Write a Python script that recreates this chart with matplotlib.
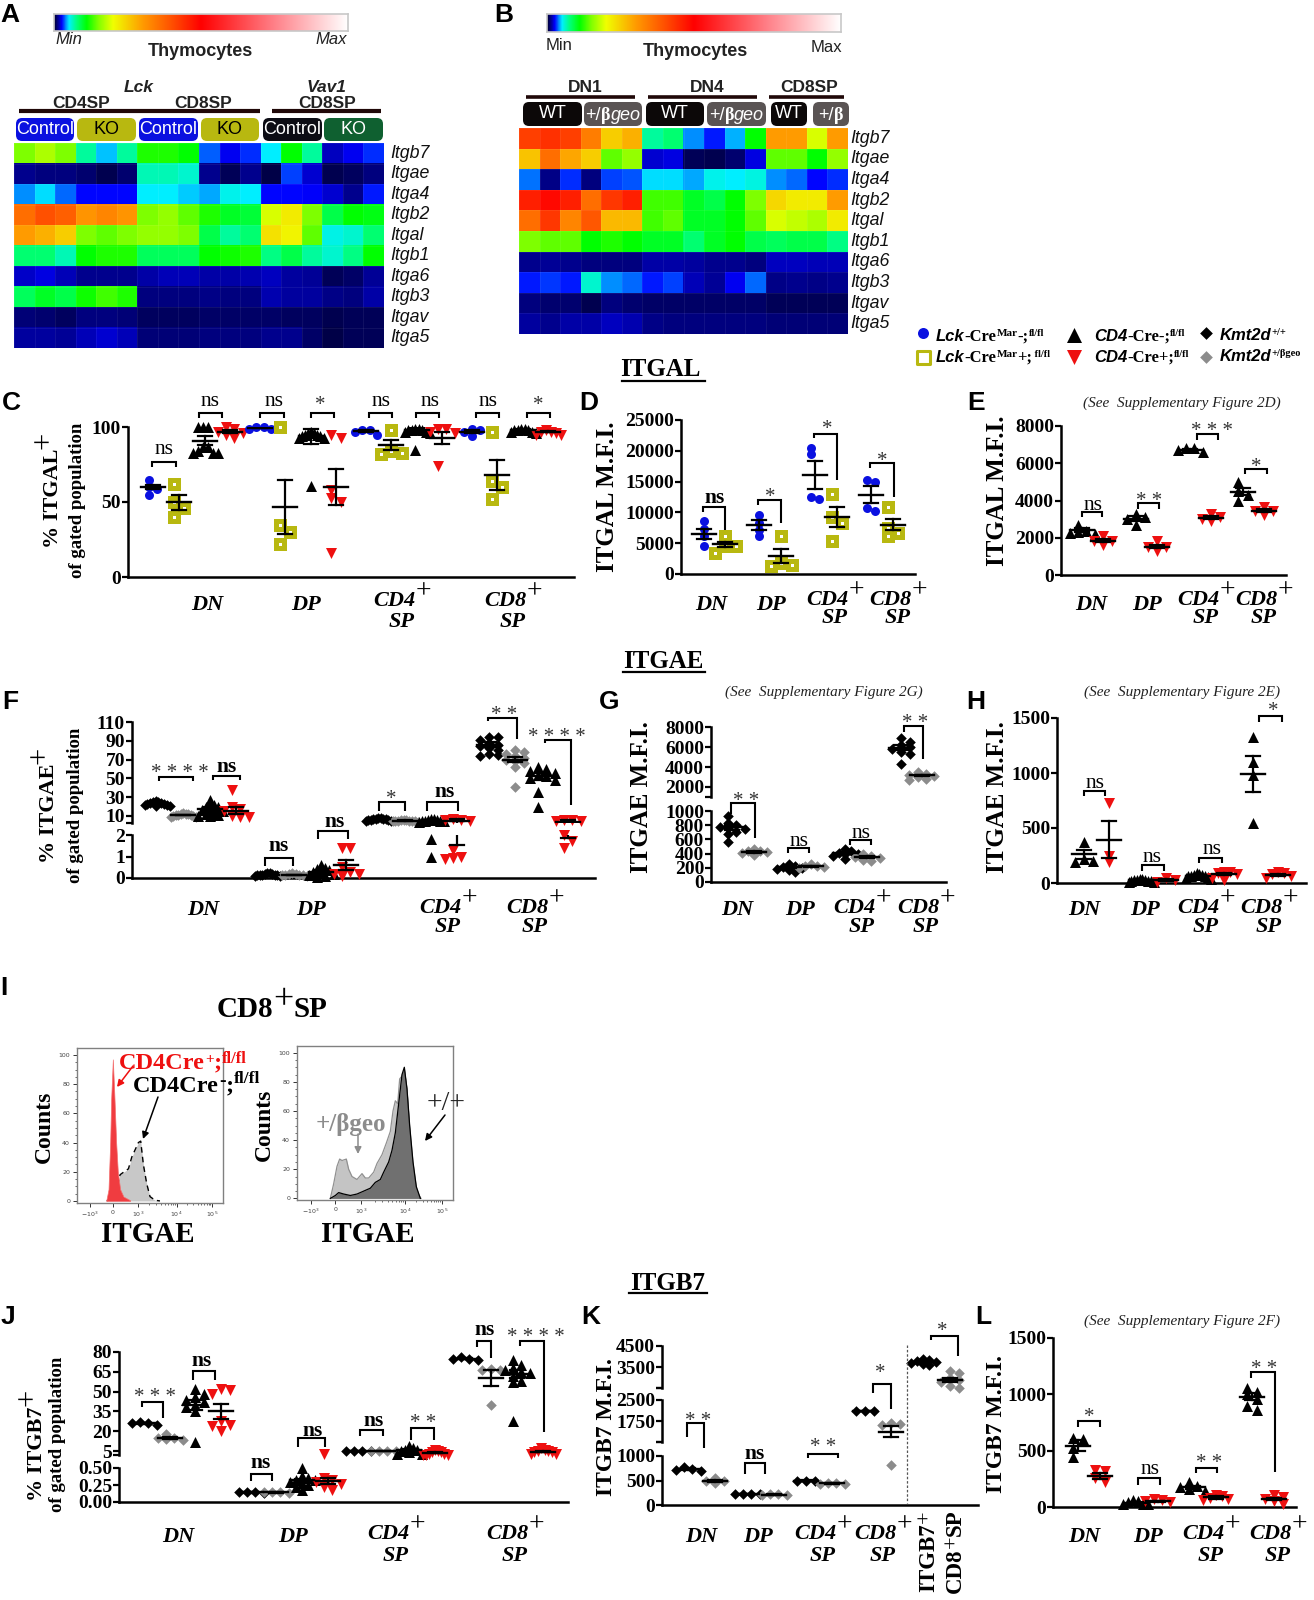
"""Thymocyte integrin figure: heatmaps, dot plots and flow histograms."""
import numpy as np
import matplotlib

matplotlib.use("Agg")
import matplotlib.pyplot as plt
from matplotlib.colors import LinearSegmentedColormap
from matplotlib.patches import FancyBboxPatch
from matplotlib.ticker import FixedLocator, MultipleLocator

W, H = 1314, 1600
SERIF = "Liberation Serif"
SANS = "Liberation Sans"

GENES = ["Itgb7", "Itgae", "Itga4", "Itgb2", "Itgal", "Itgb1", "Itga6", "Itgb3", "Itgav", "Itga5"]

# heat values are positions along the colour bar, in percent
HEAT_A = [
    [15, 17, 15, 7, 4.5, 7, 12, 12, 11, 3.5, 2.4, 3, 5, 11, 7, 1.8, 2.4, 3],
    [1.2, 1, 1, .8, .4, .8, 6.5, 6.5, 6, 1.2, .5, 1.2, .3, 3.2, 2, .4, .6, 1],
    [4, 4.8, 3.6, 2.6, 2.6, 2.6, 5, 5, 4.6, 4.2, 5.4, 5, 2.6, 2.6, 2.5, 2, 1.2, 2.8],
    [36, 40, 38, 31, 33, 31, 15, 16, 14, 12, 10, 9.5, 19, 22, 15, 9, 11, 10.5],
    [30, 28, 25, 15, 14, 15, 16, 16, 15, 9, 7, 8, 23, 21, 14, 5.5, 6, 8],
    [8, 8, 6.5, 11, 12, 12, 8.5, 8.5, 8.5, 11, 11.5, 12, 7.5, 9, 7, 6, 7.5, 11],
    [1.9, 2.2, 1.7, 1.2, 1.2, 1.2, 1.5, 1.7, 1.7, 1.5, 1.5, 1.6, 1.8, 1.4, 1.3, .5, .7, 1.3],
    [8.5, 10, 9, 11.5, 13, 12, 1, 1, 1, 1.1, 1, 1, 1.6, 1.4, 1.4, 1.1, 1, 1.5],
    [.9, .8, .6, 1, 1, .9, .6, .6, .6, .7, .7, .7, .7, .6, .6, .4, .5, .5],
    [1.4, 1.4, 1.3, 1.7, 2, 1.7, .9, .9, .9, 1, 1, 1, 1.2, 1.2, .7, .3, .5, .5],
]
HEAT_B = [
    [42, 44, 42, 34, 25, 28, 7, 8, 4, 2.8, 4.3, 11, 30, 30, 19, 30],
    [26, 36, 29, 25, 14, 16, 2, 2.2, .5, .4, .8, 2.2, 14, 14, 11, 16],
    [3.7, 1.1, 3, 1, 3.2, 3.4, 4.8, 4.8, 4.2, 5.4, 5, 5.6, 4, 3.6, 2.6, 3],
    [46, 49, 46, 36, 43, 46, 13, 13, 10, 9, 11, 15, 24, 22, 22, 30],
    [36, 43, 33, 39, 27, 27, 13, 14, 10, 10, 11, 14, 19, 18, 17, 22],
    [15, 14, 14, 11, 12, 11, 10, 10, 8, 10, 11, 9, 8.5, 9, 9, 7.5],
    [1.2, 1.3, 1.2, 1, 1, 1, 1.5, 1.5, 1.4, 1.2, 1.2, 1, 1.8, 1.8, 1.7, 1.7],
    [2.8, 3.1, 2.8, 6, 4, 3.6, 2.8, 3.2, 1.7, 1.3, 2.4, 3.6, 1.1, 1.2, 1.1, 1.2],
    [1, .8, .8, .4, 1, .8, .7, .7, .7, .7, .7, .7, .5, .5, .5, .5],
    [1.4, 1.2, 1.5, 1.5, 1.8, 1.6, 1.1, 1, 1, 1, 1, 1, .9, .9, .9, .9],
]

C_VALUES = [
    [65, 60, 59, 55], [62, 50, 46, 40], [100, 100, 100, 87, 87, 84, 83, 83, 83], [100, 99, 97, 96, 95, 93],
    [100, 100, 99, 99], [100, 35, 30, 22], [97, 96, 96, 95, 95, 94, 94, 93, 93, 61], [95, 93, 58, 53, 50, 16],
    [98, 98, 97, 95], [98, 84, 83, 82], [99, 99, 98, 98, 98, 97, 97, 96, 85], [99, 99, 97, 96, 74],
    [99, 98, 97, 94], [97, 64, 60, 52], [99, 99, 98, 98, 98, 97, 97, 96], [98, 97, 97, 96, 95, 95],
]
C_MEANS = [60, 50, 91, 97, 99.5, 47, 94, 60, 97.5, 88, 98, 93, 97, 68, 98, 97]
C_SEMS = [1.5, 5, 3, 1, .3, 18, 5, 12, .7, 3.5, 1.5, 4, 1, 10, .8, .6]

D_VALUES = [
    [8530, 7290, 6100, 4590], [6100, 4480, 4480, 3400], [9600, 8260, 7180, 6100], [6200, 1800, 1500, 1240],
    [20400, 19500, 12580, 12200], [13000, 9300, 8260, 5300], [15300, 15000, 10700, 10300], [10800, 7450, 6640, 6100],
]
D_MEANS = [6500, 4850, 7900, 2900, 16100, 9200, 12900, 8000]
D_SEMS = [850, 400, 800, 1150, 2300, 1600, 1400, 900]

E_VALUES = [
    [2700, 2350, 2300, 2250, 2200], [2100, 1850, 1800, 1600], [3300, 3100, 3000, 2700], [1800, 1500, 1500, 1300],
    [6800, 6800, 6700, 6600], [3300, 3100, 3000, 2900], [5000, 4500, 4300, 4000], [3650, 3450, 3450, 3200],
]
E_MEANS = [2420, 1850, 3020, 1530, 6720, 3080, 4480, 3450]
E_SEMS = [120, 100, 130, 100, 40, 80, 180, 80]

F_VALUES = [
    [26, 25, 25, 24, 24, 23, 23, 22, 22, 21, 21], [13, 12.5, 12, 12, 11, 11, 11, 10, 10, 9, 9],
    [27, 22, 20, 20, 18, 16, 15, 13, 12, 11, 10, 10], [38, 20, 17, 15, 10, 9, 9],
    [.25, .22, .2, .18, .16, .15, .14, .13, .12, .1, .08], [.24, .2, .18, .16, .15, .14, .13, .11],
    [.6, .45, .4, .35, .3, .25, .2, .15, .1, .05], [1.4, 1.4, .5, .3, .2, .2, .1],
    [8, 7.5, 7, 7, 6.5, 6.5, 6, 6, 5.5, 5, 5], [6, 5.5, 5.5, 5, 5, 5, 4.5, 4.5, 4.5, 4],
    [7, 6.5, 6, 5.5, 5, 5, 4.5, 4.5, 4, 1.8, 1], [7, 6, 5.5, 5, 1.3, 1, .95, .9],
    [94, 94, 91, 88, 86, 84, 82, 80, 76, 75, 74], [80, 78, 76, 74, 72, 70, 68, 66, 62, 41],
    [62, 60, 58, 56, 54, 52, 50, 48, 36, 20], [6, 5.5, 5, 5, 2, 1.7, 1.4],
]
F_MEANS = [23, 11, 17.5, 15.5, .15, .15, .3, .6, 6.3, 5, 4.6, 4.3, 86, 70, 52, 3.6]
F_SEMS = [.6, .4, 1.6, 3.5, .01, .01, .05, .22, .3, .2, .6, 2.75, 2.5, 3, 3.5, 1.75]

G_VALUES = [
    [930, 830, 800, 780, 760, 740, 700, 680, 570], [470, 440, 430, 420, 410, 380],
    [250, 230, 210, 200, 190, 170, 140], [250, 230, 220, 210, 200],
    [460, 430, 410, 400, 390, 370, 320], [400, 370, 350, 340, 310, 290],
    [6900, 6500, 6200, 6000, 5800, 5500, 5300, 4300], [3500, 3300, 3200, 3100, 3000, 2800, 2700],
]
G_MEANS = [770, 425, 210, 222, 410, 350, 5950, 3150]
G_SEMS = [35, 12, 14, 8, 16, 14, 250, 80]

H_VALUES = [
    [370, 220, 200, 190], [730, 250, 190], [40, 35, 30, 28, 25, 22, 20, 15, 12, 10], [50, 25, 8],
    [90, 80, 75, 70, 68, 62, 60, 55, 50, 40], [100, 100, 95, 80, 50, 30], [1330, 1100, 980, 550], [100, 90, 80, 60, 50],
]
H_MEANS = [260, 395, 25, 30, 65, 80, 990, 70]
H_SEMS = [40, 165, 3, 10, 5, 10, 165, 8]

J_VALUES = [
    [27, 26, 26, 25], [18, 15, 15, 14, 13], [52, 48, 46, 44, 42, 40, 38, 35, 12], [52, 51, 48, 28, 25, 24, 20],
    [.15, .14, .14, .13], [.15, .15, .15, .13], [.5, .38, .35, .33, .32, .3, .28, .25, .22, .18], [.71, .35, .33, .3, .26, .22, .17],
    [5, 5, 5, 5], [5, 5, 5, 5], [9, 7, 6, 6, 5, 4, 3, 2.5], [6, 5, 4, 4, 3, 3, 2.2, 2.2, 2],
    [76, 75, 75, 74], [67, 66, 66, 40], [74, 70, 68, 66, 65, 64, 62, 58, 57, 28], [7, 6, 5, 5, 4, 4, 3, 3],
]
J_MEANS = [26, 15, 40, 35, .14, .14, .32, .31, 5, 5, 5.5, 3.8, 75, 60, 63, 4.5]
J_SEMS = [.5, 1, 4, 6, .005, .005, .02, .04, .05, .05, .7, .4, .5, 6, 3, .5]

K_VALUES = [
    [780, 740, 720, 700], [560, 500, 480, 440], [230, 230, 230, 230], [215, 215, 210, 200],
    [500, 500, 500], [450, 440, 430, 430], [2100, 2100, 2100], [1680, 1650, 1600, 820],
    [3900, 3850, 3800, 3750, 3700, 3650, 3600], [3300, 3200, 3000, 2900, 2800, 2600, 2510],
]
K_MEANS = [735, 490, 230, 210, 500, 440, 2100, 1370, 3750, 2900]
K_SEMS = [20, 25, 2, 5, 2, 5, 3, 200, 40, 100]

L_VALUES = [
    [610, 600, 520, 440], [330, 320, 260, 220], [60, 50, 40, 30, 25, 25], [70, 60, 50, 40],
    [220, 190, 180, 160, 140], [110, 100, 80, 70, 60], [1060, 1020, 1000, 960, 900, 860], [110, 90, 70, 50, 30],
]
L_MEANS = [545, 275, 38, 50, 175, 85, 980, 70]
L_SEMS = [50, 30, 5, 6, 15, 10, 30, 12]

# flow histograms, channel positions against counts
RED_CHANNEL = [318, 325, 330, 333, 338, 343, 348, 353, 360, 370, 390]
RED_COUNT = [0, 8, 40, 70, 97, 70, 40, 20, 8, 3, .5]
GREY_CHANNEL = [320, 345, 360, 372, 385, 395, 405, 415, 422, 430, 440, 450, 465, 480]
GREY_COUNT = [0, 5, 18, 20, 22, 30, 35, 40, 41, 25, 12, 3, .5, 0]
GEO_CHANNEL = [990, 1000, 1010, 1018, 1025, 1038, 1045, 1055, 1070, 1085, 1095, 1105, 1120, 1130, 1145,
               1158, 1170, 1178, 1185, 1192, 1198, 1205, 1212, 1220, 1230, 1240, 1250, 1262]
GEO_COUNT = [0, 10, 22, 27, 26, 27, 20, 15, 13, 17, 14, 14, 18, 24, 30, 38, 46, 60, 67, 65, 82, 84, 88, 75, 40, 15, 4, 0]
WT_CHANNEL = [990, 1005, 1015, 1030, 1050, 1070, 1090, 1110, 1125, 1140, 1150, 1165, 1175, 1185, 1195,
              1205, 1212, 1220, 1228, 1238, 1248, 1260]
WT_COUNT = [0, 2, 4, 3, 2, 3, 5, 7, 11, 13, 18, 25, 33, 45, 65, 85, 90, 75, 50, 25, 8, 0]

BLUE, OLIVE, RED, GREY = "#0a10e0", "#b8b810", "#ee1010", "#8c8c8c"
STYLES = {
    "circle": ("o", 9, BLUE),
    "square": ("s", 13, OLIVE),
    "up": ("^", 11, "black"),
    "down": ("v", 11, RED),
    "diamond": ("D", 7.5, "black"),
    "gdiamond": ("D", 7.5, GREY),
}
LCK_CD4 = ["circle", "square", "up", "down"] * 4
KMT_CD4 = ["diamond", "gdiamond", "up", "down"] * 4

fig = plt.figure(figsize=(W / 100, H / 100), dpi=100, facecolor="white")
renderer = fig.canvas.get_renderer()
page = fig.add_axes([0, 0, 1, 1], zorder=20)
page.set_xlim(0, W)
page.set_ylim(H, 0)
page.axis("off")


def px_axes(left, top, right, bottom, zorder=1):
    ax = fig.add_axes([left / W, 1 - bottom / H, (right - left) / W, (bottom - top) / H], zorder=zorder)
    ax.patch.set_alpha(0)
    return ax


def txt(x, y, s, size=12, family=SANS, weight="normal", style="normal", color="black", ha="center", rot=0):
    page.text(x, y, s, fontsize=size, family=family, weight=weight, style=style, color=color,
              ha=ha, va="center", rotation=rot, rotation_mode="anchor", clip_on=False)


def rich(x, y, pieces, anchor="center", rot=0):
    """pieces: (string, size, family, weight, style, color, dy) set side by side."""
    drawn, widths = [], []
    for s, size, family, weight, style, color, dy in pieces:
        t = page.text(0, 0, s, fontsize=size, family=family, weight=weight, style=style, color=color,
                      ha="left", va="baseline", rotation_mode="anchor")
        drawn.append(t)
        widths.append(t.get_window_extent(renderer).width)
    total = sum(widths)
    base = 0.35 * pieces[0][1] * 100 / 72
    pos = -total / 2 if anchor == "center" else 0
    for t, width, piece in zip(drawn, widths, pieces):
        dy = piece[6]
        if rot == 90:
            t.set_rotation(90)
            t.set_position((x + base + dy, y - pos))
        else:
            t.set_position((x + pos, y + base + dy))
        pos += width


def bold(s, size=16, dy=0, color="black"):
    return (s, size, SERIF, "bold", "normal", color, dy)


def plus(size=20, dy=-7):
    return ("+", size, SERIF, "normal", "normal", "black", dy)


def panel_letters():
    for letter, x, y in [("A", 10, 15), ("B", 504, 15), ("C", 11, 403), ("D", 589, 403), ("E", 976, 403),
                         ("F", 10, 702), ("G", 609, 702), ("H", 976, 702), ("I", 4, 988),
                         ("J", 8, 1317), ("K", 591, 1317), ("L", 983, 1317)]:
        txt(x, y, letter, size=19, weight="bold")


def section(title, x, y, x0, x1, line_y):
    txt(x, y, title, size=18, family=SERIF, weight="bold")
    page.plot([x0, x1], [line_y, line_y], color="black", lw=1.6)


def see(x0, y, s):
    txt(x0, y, s, size=11, family=SERIF, style="italic", ha="left", color="#222222")


def stage_labels(xs, y_single, y_top, y_sp, size=16):
    names = ["DN", "DP", "CD4", "CD8"]
    for name, x in zip(names, xs):
        face = (SERIF, "bold", "italic")
        if name in ("DN", "DP"):
            txt(x, y_single, name, size=size, family=SERIF, weight="bold", style="italic")
        else:
            rich(x, y_top, [(name, size, *face, "black", 0), plus()])
            txt(x, y_sp, "SP", size=size, family=SERIF, weight="bold", style="italic")


def brackets(items, ns_weight="bold"):
    for x0, x1, top, left, right, label, lx, ly in items:
        page.plot([x0, x0, x1, x1], [left, top, top, right], color="black", lw=1.5,
                  solid_joinstyle="miter", solid_capstyle="butt")
        if label == "ns":
            txt(lx, ly, "ns", size=15.5, family=SERIF, weight=ns_weight)
        else:
            txt(lx, ly + 4, " ".join(label), size=15, family=SERIF, color="#333333")


def dodge(ys, width, height, limit=12.5):
    placed = []
    for y in ys:
        k = 0
        while True:
            step = (k + 1) // 2 * (1 if k % 2 else -1)
            dx = step * width
            if all(abs(y - py) >= height or abs(dx - px) >= width * 0.99 for px, py in placed):
                break
            k += 1
        placed.append((dx, y))
    offsets = np.array([p[0] for p in placed], dtype=float)
    offsets -= (offsets.max() + offsets.min()) / 2
    spread = np.abs(offsets).max()
    if spread > limit:
        offsets *= limit / spread
    return offsets


def scatter_panel(axis_x, end_x, segments, xs, values, means, sems, kinds, mean_half=12, cap_half=7):
    axes = []
    for i, (top, bottom, low, high, ticks, labels) in enumerate(segments):
        ax = px_axes(axis_x, top, end_x, bottom)
        ax.set_xlim(axis_x, end_x)
        ax.set_ylim(low, high)
        for side in ["top", "right", "bottom"]:
            ax.spines[side].set_visible(False)
        ax.spines["left"].set_linewidth(1.8)
        last = i == len(segments) - 1
        if last:
            ax.spines["bottom"].set_visible(True)
            ax.spines["bottom"].set_linewidth(1.8)
        else:
            ticks, labels = list(ticks) + [low], list(labels) + [""]
        ax.set_xticks([])
        ax.set_yticks(ticks)
        ax.set_yticklabels(labels, fontsize=14, family=SERIF, weight="bold")
        ax.tick_params(axis="y", width=1.6, length=4, pad=1)
        axes.append(ax)

    for x, vals, mean, sem, kind in zip(xs, values, means, sems, kinds):
        marker, size, color = STYLES[kind]
        routed = []
        for v in sorted(vals, reverse=True):
            idx = len(segments) - 1
            for j, seg in enumerate(segments):
                if v >= seg[2]:
                    idx = j
                    break
            top, bottom, low, high = segments[idx][:4]
            routed.append((v, idx, bottom + (v - low) / (high - low) * (top - bottom)))
        width = 10.5 if kind == "square" else size * (1.25 if marker == "D" else 0.85)
        offsets = dodge([r[2] for r in routed], width, size * 0.6)
        area = (size * 0.72) ** 2
        for (v, idx, _), dx in zip(routed, offsets):
            ax = axes[idx]
            ax.scatter([x + dx], [v], marker=marker, s=area, color=color, linewidths=0, clip_on=False, zorder=3)
            if kind == "square":
                ax.scatter([x + dx], [v], marker="s", s=(3 * 0.72) ** 2, color="white", linewidths=0,
                           clip_on=False, zorder=4)
        lo, hi = mean - sem, mean + sem
        for ax in axes:
            ax.plot([x - mean_half, x + mean_half], [mean, mean], color="black", lw=1.7, zorder=5)
            ax.plot([x - cap_half, x + cap_half], [hi, hi], color="black", lw=1.6, zorder=5)
            ax.plot([x - cap_half, x + cap_half], [lo, lo], color="black", lw=1.6, zorder=5)
            ax.plot([x, x], [lo, hi], color="black", lw=1.6, zorder=5)
    return axes


def heatmap(left, top, right, bottom, rows, label_x):
    ax = px_axes(left, top, right, bottom)
    ax.imshow(rows, cmap=HEAT_CMAP, vmin=0, vmax=100, aspect="auto", interpolation="nearest")
    ax.set_xticks(np.arange(len(rows[0]) + 1) - 0.5, minor=True)
    ax.set_yticks(np.arange(len(rows) + 1) - 0.5, minor=True)
    ax.grid(which="minor", color="white", lw=0.4, alpha=0.12)
    ax.tick_params(which="both", length=0)
    ax.set_xticks([])
    ax.set_yticks([])
    for s in ax.spines.values():
        s.set_visible(False)
    step = (bottom - top) / len(GENES)
    for i, gene in enumerate(GENES):
        txt(label_x, top + (i + 0.5) * step, gene, size=12.8, style="italic", ha="left", color="#111111")


def colour_bar(left, top, right, bottom):
    ax = px_axes(left, top, right, bottom)
    ax.imshow(np.linspace(0, 100, 400)[None, :], cmap=HEAT_CMAP, vmin=0, vmax=100, aspect="auto")
    ax.set_xticks([])
    ax.set_yticks([])
    for s in ax.spines.values():
        s.set_color("#c8c8c8")
        s.set_linewidth(1.2)


def pill(x0, x1, y0, y1, color):
    page.add_patch(FancyBboxPatch((x0 + 4, y0 + 4), x1 - x0 - 8, y1 - y0 - 8, boxstyle="round,pad=4,rounding_size=6",
                                  fc=color, ec="none", clip_on=False))


def histogram(left, top, right, bottom, xlim, ylim, tick_pos):
    ax = px_axes(left, top, right, bottom)
    ax.set_xlim(*xlim)
    ax.set_ylim(*ylim)
    for s in ax.spines.values():
        s.set_color("#808080")
        s.set_linewidth(1.0)
    ax.set_xticks(tick_pos)
    ax.set_xticklabels(["$\\mathregular{-10^{3}}$", "0", "$\\mathregular{10^{3}}$",
                        "$\\mathregular{10^{4}}$", "$\\mathregular{10^{5}}$"], fontsize=4.5, color="#444444")
    ax.set_yticks([0, 20, 40, 60, 80, 100])
    ax.set_yticklabels(["0", "20", "40", "60", "80", "100"], fontsize=4.5, color="#444444")
    ax.yaxis.set_minor_locator(MultipleLocator(5))
    minor = []
    for a, b in zip(tick_pos[2:-1], tick_pos[3:]):
        minor += [a + (b - a) * np.log10(k) for k in range(2, 10)]
    ax.xaxis.set_minor_locator(FixedLocator(minor))
    ax.tick_params(which="major", length=3, width=0.7, pad=2, color="#333333")
    ax.tick_params(which="minor", length=1.5, width=0.5, color="#333333")
    return ax


HEAT_CMAP = LinearSegmentedColormap.from_list(
    "thymo",
    [(0, "#000030"), (.012, "#000090"), (.025, "#0000ff"), (.0375, "#0080ff"), (.05, "#00f0ff"), (.075, "#00ff80"),
     (.11, "#00ff00"), (.15, "#80ff00"), (.2, "#f0ff00"), (.3, "#ff9c00"), (.4, "#ff5000"), (.5, "#ff0000"),
     (.75, "#ff8088"), (1, "#ffffff")],
    N=1024,
)

panel_letters()

# A
colour_bar(54, 14, 348, 31)
txt(55, 39, "Min", size=12, style="italic", ha="left", color="#222222")
txt(347, 39, "Max", size=12, style="italic", ha="right", color="#222222")
txt(200, 51, "Thymocytes", size=13, weight="bold", color="#222222")
heatmap(14, 143, 384, 348, HEAT_A, 390)
txt(139, 88, "Lck", size=12.5, weight="bold", style="italic", color="#222222")
txt(326, 88, "Vav1", size=12.5, weight="bold", style="italic", color="#222222")
for x, s in [(81, "CD4SP"), (203, "CD8SP"), (327, "CD8SP")]:
    txt(x, 103, s, size=12.5, weight="bold", color="#222222")
page.plot([19, 260], [111, 111], color="#200808", lw=3, solid_capstyle="butt")
page.plot([272, 381], [111, 111], color="#200808", lw=3, solid_capstyle="butt")
for x0, x1, s, fc, tc in [(16, 74, "Control", BLUE, "white"), (77, 136, "KO", OLIVE, "black"),
                          (139, 198, "Control", BLUE, "white"), (201, 259, "KO", OLIVE, "black"),
                          (263, 322, "Control", "#0c0c14", "white"), (324, 383, "KO", "#0f6030", "white")]:
    pill(x0, x1, 118, 141, fc)
    txt((x0 + x1) / 2, 130, s, size=13, color=tc)

# B
colour_bar(547, 14, 841, 32)
txt(546, 46, "Min", size=12, ha="left", color="#222222")
txt(842, 47, "Max", size=12, ha="right", color="#222222")
txt(695, 51, "Thymocytes", size=13, weight="bold", color="#222222")
heatmap(519, 128, 848, 334, HEAT_B, 850)
for x, s in [(585, "DN1"), (707, "DN4"), (809, "CD8SP")]:
    txt(x, 88, s, size=12.5, weight="bold", color="#222222")
for x0, x1 in [(526, 635), (648, 757), (769, 844)]:
    page.plot([x0, x1], [97, 97], color="#200808", lw=2.6, solid_capstyle="butt")
for x0, x1 in [(523, 582), (646, 704), (771, 807)]:
    pill(x0, x1, 102, 126, "#0c0808")
    txt((x0 + x1) / 2, 114, "WT", size=13, color="white")
for x0, x1 in [(584, 642), (707, 766)]:
    pill(x0, x1, 102, 126, "#5a5454")
    rich((x0 + x1) / 2, 114, [("+/", 13, SANS, "normal", "normal", "white", 0),
                              ("β", 13, SERIF, "bold", "normal", "white", 0),
                              ("geo", 13, SANS, "normal", "italic", "white", 0)])
pill(813, 849, 102, 126, "#5a5454")
rich(831, 114, [("+/", 13, SANS, "normal", "normal", "white", 0), ("β", 13, SERIF, "bold", "normal", "white", 0)])

# legend
def legend_text(x, y, gene, rest, sup1, mid, sup2):
    pieces = [(gene, 12, SANS, "bold", "italic", "black", 0)]
    if rest:
        pieces.append((rest, 12, SERIF, "bold", "normal", "black", 0))
    if sup1:
        pieces.append((sup1, 8, SERIF, "bold", "normal", "black", -5))
    if mid:
        pieces.append((mid, 12, SERIF, "bold", "normal", "black", 0))
    pieces.append((sup2, 7.5, SERIF, "bold", "normal", "black", -5))
    rich(x, y, pieces, anchor="left")


page.scatter([923], [333], marker="o", s=(11 * .72) ** 2, color=BLUE, linewidths=0)
page.scatter([923], [357], marker="s", s=(13 * .72) ** 2, facecolor="white", edgecolor=OLIVE, linewidths=2.2)
page.scatter([1074], [335], marker="^", s=(15 * .72) ** 2, color="black", linewidths=0)
page.scatter([1074], [357], marker="v", s=(15 * .72) ** 2, color=RED, linewidths=0)
page.scatter([1206], [333], marker="D", s=(9 * .72) ** 2, color="black", linewidths=0)
page.scatter([1206], [357], marker="D", s=(9 * .72) ** 2, color=GREY, linewidths=0)
legend_text(936, 335, "Lck", "-Cre", "Mar", "-;", "fl/fl")
legend_text(936, 356, "Lck", "-Cre", "Mar", "+;", " fl/fl")
legend_text(1094, 335, "CD4", "-Cre-;", "", "", "fl/fl")
legend_text(1094, 356, "CD4", "-Cre+;", "", "", "fl/fl")
legend_text(1220, 334, "Kmt2d", "", "", "", "+/+")
legend_text(1220, 355, "Kmt2d", "", "", "", "+/βgeo")

section("ITGAL", 660, 370, 622, 705, 381)
section("ITGAE", 663, 662, 623, 705, 672)
section("ITGB7", 668, 1284, 629, 707, 1293)

# C
scatter_panel(128, 574, [(427, 577, 0, 100, [0, 50, 100], ["0", "50", "100"])],
              [153, 179, 205, 230, 260, 285, 311, 336, 366, 391, 417, 442, 472, 497, 523, 548],
              C_VALUES, C_MEANS, C_SEMS, LCK_CD4)
rich(50, 490, [bold("% ITGAL"), plus(22, -6)], rot=90)
txt(78, 500, "of gated population", size=13.5, family=SERIF, weight="bold", rot=90)
stage_labels([207, 306, 402, 513], 605, 598, 622)
brackets([(152, 176, 462, 467, 467, "ns", 164, 450), (199, 222, 413, 418, 418, "ns", 210, 402),
          (260, 284, 413, 418, 418, "ns", 274, 402), (311, 334, 413, 418, 418, "*", 320, 402),
          (369, 392, 413, 418, 418, "ns", 381, 402), (416, 439, 413, 418, 418, "ns", 430, 402),
          (476, 499, 413, 418, 418, "ns", 488, 402), (527, 550, 413, 418, 418, "*", 538, 402)], "normal")

# D
scatter_panel(681, 915, [(420, 574, 0, 25000, [0, 5000, 10000, 15000, 20000, 25000],
                          ["0", "5000", "10000", "15000", "20000", "25000"])],
              [704, 725, 759, 781, 815, 837, 871, 893], D_VALUES, D_MEANS, D_SEMS, ["circle", "square"] * 4)
txt(608, 497, "ITGAL M.F.I.", size=18, family=SERIF, weight="bold", rot=90)
stage_labels([711, 771, 835, 898], 605, 597, 618)
brackets([(703, 725, 507, 512, 530, "ns", 715, 498), (758, 781, 500, 505, 523, "*", 770, 494),
          (814, 837, 434, 438, 480, "*", 827, 425), (870, 894, 463, 468, 497, "*", 882, 457)])

# E
see(1083, 403, "(See  Supplementary Figure 2D)")
scatter_panel(1061, 1286, [(426, 575, 0, 8000, [0, 2000, 4000, 6000, 8000], ["0", "2000", "4000", "6000", "8000"])],
              [1082, 1103, 1136, 1157, 1190, 1211, 1243, 1264], E_VALUES, E_MEANS, E_SEMS, ["up", "down"] * 4)
txt(997, 491, "ITGAL M.F.I.", size=18, family=SERIF, weight="bold", rot=90)
stage_labels([1091, 1147, 1206, 1264], 605, 597, 618)
brackets([(1082, 1102, 512, 517, 517, "ns", 1093, 505), (1138, 1159, 503, 509, 509, "**", 1149, 498),
          (1197, 1218, 434, 440, 440, "***", 1212, 428), (1245, 1267, 469, 474, 474, "*", 1256, 463)], "normal")

# F
scatter_panel(132, 595, [(722, 823, 2.5, 110, [10, 30, 50, 70, 90, 110], ["10", "30", "50", "70", "90", "110"]),
                         (835, 878, 0, 2, [0, 1, 2], ["0", "1", "2"])],
              [157, 183, 210, 236, 267, 294, 321, 346, 378, 405, 431, 457, 489, 515, 542, 568],
              F_VALUES, F_MEANS, F_SEMS, KMT_CD4)
rich(46, 805, [bold("% ITGAE"), plus(22, -6)], rot=90)
txt(75, 805, "of gated population", size=13.5, family=SERIF, weight="bold", rot=90)
stage_labels([203, 311, 448, 535], 910, 905, 927)
brackets([(159, 193, 777, 781, 781, "****", 180, 769), (213, 240, 776, 780, 780, "ns", 227, 767),
          (265, 293, 858, 866, 866, "ns", 279, 846), (318, 348, 831, 839, 839, "ns", 335, 822),
          (379, 405, 802, 811, 811, "*", 391, 795), (427, 458, 802, 811, 811, "ns", 445, 792),
          (488, 517, 718, 721, 739, "**", 504, 711), (545, 571, 740, 743, 805, "****", 557, 734)])

# G
see(725, 692, "(See  Supplementary Figure 2G)")
scatter_panel(711, 946, [(727, 797, 1000, 8000, [2000, 4000, 6000, 8000], ["2000", "4000", "6000", "8000"]),
                         (811, 882, 0, 1000, [0, 200, 400, 600, 800, 1000], ["0", "200", "400", "600", "800", "1000"])],
              [732, 754, 789, 811, 845, 867, 901, 922], G_VALUES, G_MEANS, G_SEMS, ["diamond", "gdiamond"] * 4)
txt(641, 797, "ITGAE M.F.I.", size=18, family=SERIF, weight="bold", rot=90)
stage_labels([737, 800, 862, 926], 910, 905, 927)
brackets([(731, 755, 803, 814, 838, "**", 746, 797), (788, 809, 848, 853, 853, "ns", 799, 841),
          (850, 871, 840, 845, 845, "ns", 861, 833), (904, 923, 726, 732, 759, "**", 915, 719)], "normal")

# H
see(1084, 692, "(See  Supplementary Figure 2E)")
scatter_panel(1057, 1306, [(718, 883, 0, 1500, [0, 500, 1000, 1500], ["0", "500", "1000", "1500"])],
              [1084, 1109, 1141, 1166, 1198, 1224, 1253, 1278], H_VALUES, H_MEANS, H_SEMS, ["up", "down"] * 4)
txt(998, 797, "ITGAE M.F.I.", size=18, family=SERIF, weight="bold", rot=90)
stage_labels([1084, 1145, 1206, 1269], 910, 905, 927)
brackets([(1084, 1105, 791, 796, 796, "ns", 1095, 783), (1142, 1164, 865, 871, 871, "ns", 1152, 857),
          (1199, 1222, 858, 863, 863, "ns", 1212, 849), (1259, 1282, 716, 722, 722, "*", 1273, 708)], "normal")

# I
rich(272, 1007, [bold("CD8", 21), plus(26, -8), bold("SP", 21)])
left_hist = histogram(77, 1048, 223, 1203, (230, 670), (-1.4, 104.8), [268, 337, 413, 530, 637])
left_hist.fill_between(GREY_CHANNEL, GREY_COUNT, 0, color="#c8c8c8", lw=0, zorder=2)
left_hist.plot(GREY_CHANNEL, GREY_COUNT, color="black", lw=1.0, ls=(0, (4, 3)), zorder=3)
left_hist.fill_between(RED_CHANNEL, RED_COUNT, 0, color="#f03c40", lw=0.5, ec="#f47070", zorder=4)
right_hist = histogram(297, 1046, 453, 1200, (890, 1358), (-1.1, 104.6), [932, 1005, 1083, 1215, 1325])
right_hist.fill_between(GEO_CHANNEL, GEO_COUNT, 0, color="#c4c4c4", lw=0, zorder=2)
right_hist.plot(GEO_CHANNEL, GEO_COUNT, color="#909090", lw=0.9, zorder=3)
right_hist.fill_between(WT_CHANNEL, WT_COUNT, 0, color="#707070", lw=0, zorder=4)
right_hist.plot(WT_CHANNEL, WT_COUNT, color="black", lw=0.9, zorder=5)
rich(119, 1060, [bold("CD4Cre", 17.5, color="#ee1010"), bold("+", 11, -6, "#ee1010"),
                 bold(";", 17.5, color="#ee1010"), bold("fl/fl", 12, -6, "#ee1010")], anchor="left")
rich(133, 1083, [bold("CD4Cre", 17.5), bold("-", 14, -6), bold(";", 17.5), bold("fl/fl", 12.5, -9)], anchor="left")
for start, end, color in [((133, 1066), (117, 1087), RED), ((158, 1097), (143, 1139), "black"),
                          ((358, 1134), (358, 1154), GREY), ((445, 1115), (425, 1141), "black")]:
    page.annotate("", xy=end, xytext=start, arrowprops=dict(arrowstyle="-|>", color=color, lw=1.1, shrinkA=0, shrinkB=0))
txt(351, 1125, "+/βgeo", size=18, family=SERIF, weight="bold", color=GREY)
txt(446, 1103, "+/+", size=20, family=SERIF, color="#222222")
txt(44, 1127, "Counts", size=17, family=SERIF, weight="bold", rot=90)
txt(264, 1125, "Counts", size=17, family=SERIF, weight="bold", rot=90)
txt(148, 1235, "ITGAE", size=21, family=SERIF, weight="bold")
txt(368, 1235, "ITGAE", size=21, family=SERIF, weight="bold")

# J
scatter_panel(119, 568, [(1352, 1455, 2, 80, [5, 20, 35, 50, 65, 80], ["5", "20", "35", "50", "65", "80"]),
                         (1468, 1502, 0, .5, [0, .25, .5], ["0.00", "0.25", "0.50"])],
              [144, 170, 195, 221, 251, 276, 302, 328, 358, 383, 409, 435, 465, 491, 517, 543],
              J_VALUES, J_MEANS, J_SEMS, KMT_CD4)
rich(34, 1445, [bold("% ITGB7"), plus(22, -6)], rot=90)
txt(57, 1434, "of gated population", size=13.5, family=SERIF, weight="bold", rot=90)
stage_labels([178, 293, 396, 515], 1537, 1531, 1556)
brackets([(142, 163, 1402, 1407, 1418, "***", 155, 1394), (193, 215, 1371, 1380, 1380, "ns", 202, 1361),
          (251, 272, 1474, 1481, 1481, "ns", 261, 1463), (298, 325, 1438, 1447, 1447, "ns", 313, 1431),
          (360, 383, 1430, 1436, 1436, "ns", 374, 1421), (411, 434, 1428, 1440, 1440, "**", 423, 1420),
          (477, 491, 1341, 1347, 1358, "ns", 485, 1330), (520, 544, 1341, 1346, 1432, "****", 536, 1333)])

# K
scatter_panel(662, 978, [(1346, 1388, 2500, 4500, [2500, 3500, 4500], ["2500", "3500", "4500"]),
                         (1400, 1442, 1000, 2500, [1000, 1750, 2500], ["1000", "1750", "2500"]),
                         (1456, 1505, 0, 1000, [0, 500, 1000], ["0", "500", "1000"])],
              [688, 715, 747, 774, 806, 832, 865, 891, 923, 950], K_VALUES, K_MEANS, K_SEMS,
              ["diamond", "gdiamond"] * 5)
page.plot([907, 907], [1345, 1503], color="#555555", lw=0.9, ls=(0, (2, 1.5)))
txt(606, 1427, "ITGB7 M.F.I.", size=17, family=SERIF, weight="bold", rot=90)
stage_labels([701, 758, 823, 883], 1537, 1531, 1556)
rich(926, 1551, [bold("ITGB7", 16.5), plus(16, -4)], rot=90)
rich(953, 1551, [bold("CD8", 16.5), plus(16, -4), bold("SP", 16.5)], rot=90)
brackets([(687, 704, 1423, 1437, 1448, "**", 698, 1417), (745, 765, 1463, 1474, 1474, "ns", 755, 1454),
          (808, 838, 1454, 1458, 1458, "**", 823, 1444), (873, 891, 1384, 1393, 1409, "*", 880, 1370),
          (931, 958, 1336, 1340, 1356, "*", 942, 1327)])

# L
see(1084, 1321, "(See  Supplementary Figure 2F)")
scatter_panel(1053, 1296, [(1338, 1507, 0, 1500, [0, 500, 1000, 1500], ["0", "500", "1000", "1500"])],
              [1078, 1100, 1136, 1158, 1193, 1216, 1252, 1274], L_VALUES, L_MEANS, L_SEMS, ["up", "down"] * 4)
txt(996, 1424, "ITGB7 M.F.I.", size=17, family=SERIF, weight="bold", rot=90)
stage_labels([1084, 1148, 1211, 1278], 1537, 1531, 1556)
brackets([(1078, 1100, 1421, 1427, 1427, "*", 1089, 1413), (1138, 1160, 1478, 1485, 1485, "ns", 1150, 1470),
          (1196, 1217, 1468, 1473, 1473, "**", 1209, 1459), (1251, 1275, 1372, 1378, 1472, "**", 1264, 1365)], "normal")

fig.savefig("out.png", dpi=100, facecolor="white")
plt.close(fig)
